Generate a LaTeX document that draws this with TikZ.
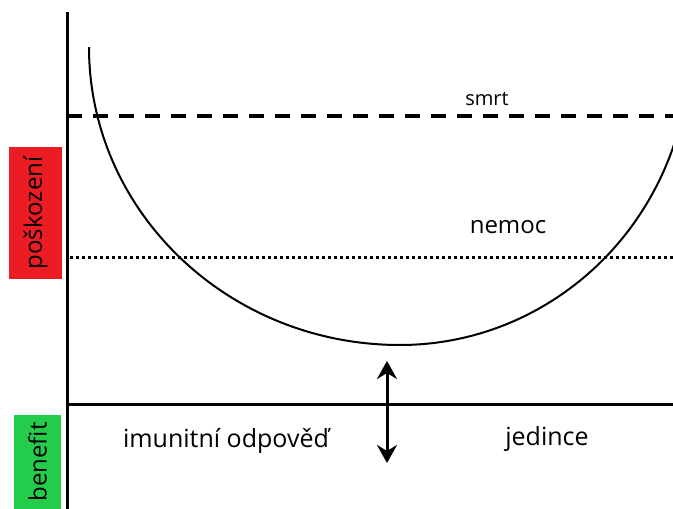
\documentclass[tikz,border=0pt]{standalone}
\usepackage{fontspec}
\setmainfont{Open Sans}
\usetikzlibrary{arrows.meta}
\definecolor{redbox}{RGB}{237,28,36}
\definecolor{greenbox}{RGB}{36,204,76}
\tikzset{
  axis/.style={line width=3pt, line cap=butt},
  lbl/.style={inner sep=0pt, anchor=base, font=\fontsize{25}{28}\selectfont},
  sidebox/.style={inner sep=0pt, rotate=90, font=\fontsize{24}{27}\selectfont},
  dblarrow/.style={line width=3pt, arrows={Stealth[length=18pt,width=20pt,inset=6pt]-Stealth[length=18pt,width=20pt,inset=6pt]}},
}
\begin{document}
\begin{tikzpicture}[x=1pt,y=1pt]
\useasboundingbox (0,0) rectangle (673,-509);
% axes
\coordinate (vtop) at (67,-12);
\coordinate (vbot) at (67,-509);
\coordinate (hl) at (67,-404);
\coordinate (hr) at (673,-404);
\draw[axis] (vtop) -- (vbot);
\draw[axis] (hl) -- (hr);
% dashed (smrt) and dotted (nemoc)
\coordinate (dl) at (67,-116);
\coordinate (dr) at (673,-116);
\draw[line width=4pt, dash pattern=on 15pt off 11pt] (dl) -- (dr);
\coordinate (tl) at (70,-257);
\coordinate (tr) at (673,-257);
\draw[line width=3pt, dash pattern=on 3pt off 3pt] (tl) -- (tr);
% curve
\coordinate (cstart) at (89,-47);
\draw[line width=2pt] (cstart) arc[start angle=180, end angle=270, x radius=311pt, y radius=298pt]
  arc[start angle=270, end angle=342, x radius=290pt, y radius=298pt];
% double arrow
\coordinate (at) at (387,-361);
\coordinate (ab) at (387,-463);
\draw[dblarrow] (at) -- (ab);
% labels
\node[lbl, font=\fontsize{20}{22}\selectfont] (smrt) at (487,-105) {smrt};
\node[lbl, font=\fontsize{24}{27}\selectfont] (nemoc) at (508,-233) {nemoc};
\node[lbl] (imun) at (226,-447) {imunitní odpověď};
\node[lbl] (jed) at (547,-445) {jedince};
% side boxes
\node[sidebox, fill=redbox, minimum width=132pt, minimum height=53pt] (posk) at (35.5,-213) {poškození};
\node[sidebox, fill=greenbox, minimum width=94pt, minimum height=47pt] (ben) at (37.5,-462) {benefit};
\end{tikzpicture}
\end{document}
